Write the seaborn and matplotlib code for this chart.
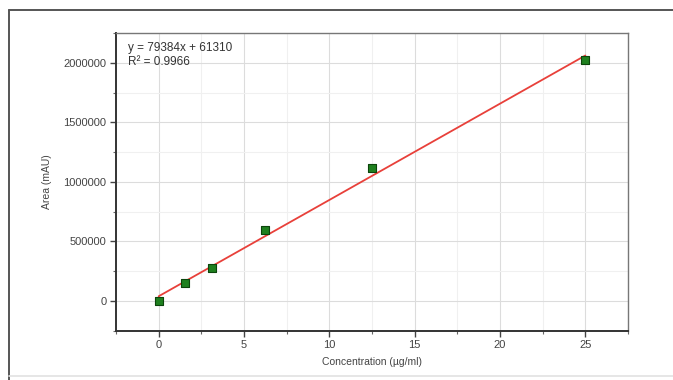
import numpy as np
import pandas as pd
import matplotlib
matplotlib.use("Agg")
import matplotlib.pyplot as plt
from matplotlib.ticker import MultipleLocator
from matplotlib.lines import Line2D
import seaborn as sns

# data
concentration = [0, 1.5625, 3.125, 6.25, 12.5, 25]
area = [0, 145000, 275000, 594000, 1112000, 2020000]
slope = 79384
intercept = 61310
r_squared = 0.9966
x_ticks = [0, 5, 10, 15, 20, 25]
y_ticks = [0, 500000, 1000000, 1500000, 2000000]

sns.set_theme(style="white")
plt.rcParams['font.family'] = ['Liberation Sans', 'DejaVu Sans']

df = pd.DataFrame({"Concentration": concentration, "Area": area})

fig = plt.figure(figsize=(6.73, 3.80), dpi=100)
ax = fig.add_axes([116/673, 1 - 330.5/380, (628-116)/673, (330.5-33)/380])

ax.set_xlim(-2.5, 27.5)
ax.set_ylim(-250000, 2250000)

ax.grid(True, which='major', color='#dcdcdc', linewidth=0.8)
ax.grid(True, which='minor', color='#f0f0f0', linewidth=0.8)
ax.set_axisbelow(True)

sns.regplot(data=df, x="Concentration", y="Area", ax=ax, ci=None, scatter=False,
            truncate=True, line_kws=dict(color='#e8403a', linewidth=1.3, zorder=2))
sns.scatterplot(data=df, x="Concentration", y="Area", ax=ax, marker='s', s=30,
                color='#1f801f', edgecolor='#0c450c', linewidth=0.8, zorder=3)

ax.set_xlim(-2.5, 27.5)
ax.set_ylim(-250000, 2250000)
ax.xaxis.set_minor_locator(MultipleLocator(2.5))
ax.yaxis.set_minor_locator(MultipleLocator(250000))
ax.set_xticks(x_ticks)
ax.set_yticks(y_ticks)
ax.set_xticklabels([str(v) for v in x_ticks])
ax.set_yticklabels([str(v) for v in y_ticks])

ax.set_xlabel("Concentration (µg/ml)", fontsize=7.5, color='#444444', labelpad=5)
ax.set_ylabel("Area (mAU)", fontsize=7.5, color='#444444', labelpad=8)

for side in ['left', 'bottom']:
    ax.spines[side].set_color('#333333')
    ax.spines[side].set_linewidth(1.4)
for side in ['top', 'right']:
    ax.spines[side].set_color('#777777')
    ax.spines[side].set_linewidth(1.0)

ax.tick_params(which='major', direction='out', length=4, width=1.0, color='#444444',
               labelsize=8, labelcolor='#444444', left=True, bottom=True, pad=3)
ax.tick_params(which='minor', direction='out', length=2.5, width=0.8, color='#666666',
               left=True, bottom=True)

ax.text(0.0234, 0.9496, f"y = {slope}x + {intercept}",
        transform=ax.transAxes, fontsize=8.5, color='#333333', va='center', ha='left')
ax.text(0.0234, 0.9025, f"R² = {r_squared}",
        transform=ax.transAxes, fontsize=8.5, color='#333333', va='center', ha='left')

# outer frame: dark top and left, light bottom
tf = fig.transFigure
fig.lines.append(Line2D([9/673, 9/673], [0, 1 - 10/380], transform=tf,
                        color='#555555', linewidth=1.4))
fig.lines.append(Line2D([9/673, 1], [1 - 10/380, 1 - 10/380], transform=tf,
                        color='#555555', linewidth=1.4))
fig.lines.append(Line2D([9/673, 1], [1 - 376/380, 1 - 376/380], transform=tf,
                        color='#e2e2e2', linewidth=1.2))

fig.savefig("out.png", dpi=100)
